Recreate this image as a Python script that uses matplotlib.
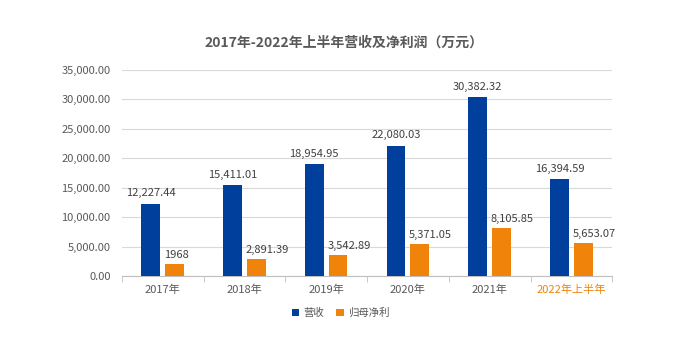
import matplotlib
matplotlib.use('Agg')
import matplotlib.pyplot as plt
import numpy as np
from matplotlib.ticker import FuncFormatter

plt.rcParams['font.family'] = ['Noto Sans CJK SC', 'DejaVu Sans']

# Data
years = ['2017年', '2018年', '2019年', '2020年', '2021年', '2022年上半年']
revenue = [12227.44, 15411.01, 18954.95, 22080.03, 30382.32, 16394.59]
profit = [1968, 2891.39, 3542.89, 5371.05, 8105.85, 5653.07]
profit_labels = ['1968', '2,891.39', '3,542.89', '5,371.05', '8,105.85', '5,653.07']

blue = '#003F9C'
orange = '#F08309'
text_color = '#595959'

fig = plt.figure(figsize=(6.88, 3.51), dpi=100)
ax = fig.add_axes([0.177, 0.2137, 0.713, 0.587])

x = np.arange(len(years))
w = 0.23
off = 0.145
b1 = ax.bar(x - off, revenue, w, color=blue, label='营收', zorder=3)
b2 = ax.bar(x + off, profit, w, color=orange, label='归母净利', zorder=3)

# value labels: revenue centred, profit starting at the bar's left edge
for rect, v in zip(b1, revenue):
    ax.annotate(f'{v:,.2f}', (rect.get_x() + rect.get_width() / 2, v),
                xytext=(0, 4), textcoords='offset points', ha='center', va='bottom',
                fontsize=8, color='#404040')
for rect, v, lab in zip(b2, profit, profit_labels):
    ax.annotate(lab, (rect.get_x(), v),
                xytext=(-1, 3), textcoords='offset points', ha='left', va='bottom',
                fontsize=8, color='#404040')

ax.set_xlim(-0.5, len(years) - 0.5)
ax.set_ylim(0, 35000)
ax.set_yticks(np.arange(0, 35001, 5000))
ax.yaxis.set_major_formatter(FuncFormatter(lambda v, p: f'{v:,.2f}'))
ax.grid(axis='y', color='#D9D9D9', linewidth=0.8, zorder=0)

ax.set_xticks(x)
ax.set_xticklabels(years)
ax.set_xticks(np.arange(-0.5, len(years), 1), minor=True)
ax.tick_params(axis='x', which='major', length=0, pad=6, labelsize=8, labelcolor=text_color)
ax.tick_params(axis='x', which='minor', length=4, color='#BFBFBF')
ax.tick_params(axis='y', length=0, pad=8, labelsize=8, labelcolor=text_color)
ax.get_xticklabels()[-1].set_color(orange)

for s in ['top', 'right', 'left']:
    ax.spines[s].set_visible(False)
ax.spines['bottom'].set_color('#BFBFBF')

fig.text(0.5, 0.88, '2017年-2022年上半年营收及净利润（万元）', ha='center', va='center',
         fontsize=10, fontweight='bold', color=text_color)

fig.legend(loc='center', bbox_to_anchor=(0.495, 0.108), ncol=2, frameon=False,
           fontsize=7.5, handlelength=0.7, handleheight=0.7, handletextpad=0.4,
           columnspacing=1.2, labelcolor=text_color)

fig.savefig('out.png', dpi=100)
